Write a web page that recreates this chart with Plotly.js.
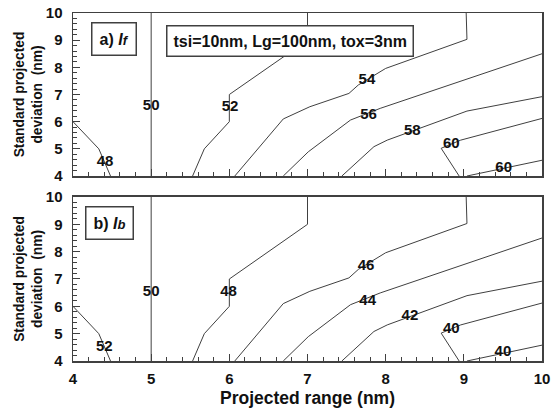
<!DOCTYPE html>
<html><head><meta charset="utf-8">
<script src="https://cdn.plot.ly/plotly-3.0.1.min.js"></script>
<style>body{margin:0;background:#fff}#g{width:554px;height:418px}</style>
</head><body><div id="g"></div>
<script>
// Contour line vertices (projected range, standard projected deviation)
const line1X = [4.0, 4.33, 4.48];            const line1Y = [6.0, 5.0, 4.0];
const line2X = [5.0, 5.0];                   const line2Y = [4.0, 10.0];
const line3X = [5.53, 5.68, 6.0, 6.0, 7.0, 7.0]; const line3Y = [4.0, 5.0, 6.0, 7.0, 9.0, 10.0];
const line4X = [6.07, 6.69, 7.03, 7.53, 7.65, 8.0, 9.04, 9.03];
const line4Y = [4.0, 6.1, 6.55, 7.04, 7.35, 7.96, 9.03, 10.0];
const line5X = [6.69, 7.01, 7.55, 7.93, 10.0]; const line5Y = [4.0, 4.89, 6.06, 6.49, 8.5];
const line6X = [7.44, 7.85, 8.02, 9.04, 10.0]; const line6Y = [4.0, 5.08, 5.32, 6.39, 6.92];
const line7X = [8.94, 8.71, 8.96, 10.0];     const line7Y = [4.0, 5.02, 5.32, 6.12];
const line8X = [9.04, 10.0];                 const line8Y = [4.0, 4.58];

// Contour labels, panel a) If
const labelsA  = ["48", "50", "52", "54", "56", "58", "60", "60"];
const labelsAX = [4.41, 5.0, 6.01, 7.76, 7.78, 8.34, 8.84, 9.51];
const labelsAY = [4.5, 6.55, 6.54, 7.53, 6.24, 5.65, 5.18, 4.28];
// Contour labels, panel b) Ib
const labelsB  = ["52", "50", "48", "46", "44", "42", "40", "40"];
const labelsBX = [4.4, 5.0, 5.99, 7.75, 7.77, 8.31, 8.84, 9.5];
const labelsBY = [4.52, 6.52, 6.52, 7.48, 6.2, 5.62, 5.16, 4.32];

const xTicks = [4, 5, 6, 7, 8, 9, 10];
const yTicks = [4, 5, 6, 7, 8, 9, 10];

const linesX = [line1X, line2X, line3X, line4X, line5X, line6X, line7X, line8X];
const linesY = [line1Y, line2Y, line3Y, line4Y, line5Y, line6Y, line7Y, line8Y];

const FONT = "Liberation Sans, Arial, sans-serif";
const traces = [];
[["x","y"],["x2","y2"]].forEach(([xa, ya]) => {
  linesX.forEach((lx, i) => {
    traces.push({type:"scatter", mode:"lines", x:lx, y:linesY[i], xaxis:xa, yaxis:ya,
      line:{color:"#404040", width:1}, hoverinfo:"skip", showlegend:false});
  });
});
traces.push({type:"scatter", mode:"text", x:labelsAX, y:labelsAY, text:labelsA, xaxis:"x", yaxis:"y",
  textfont:{family:FONT, size:15, color:"#111", weight:700}, showlegend:false});
traces.push({type:"scatter", mode:"text", x:labelsBX, y:labelsBY, text:labelsB, xaxis:"x2", yaxis:"y2",
  textfont:{family:FONT, size:15, color:"#111", weight:700}, showlegend:false});

const tickFont = {family:FONT, size:15, color:"#111", weight:700};
function xax(labels, anchor){
  return {range:[4,10], domain:[0,1], anchor:anchor, tickvals:xTicks, ticktext:xTicks.map(String),
    showticklabels:labels, ticks:"inside", ticklen:7, tickcolor:"#404040", tickwidth:1,
    minor:{dtick:0.2, ticks:"inside", ticklen:4, tickcolor:"#404040", tickwidth:1},
    showline:true, mirror:true, linecolor:"#404040", linewidth:1.5, showgrid:false, zeroline:false,
    tickfont:tickFont, ticklabelstandoff:3,
    title: labels ? {text:"Projected range (nm)", font:{family:FONT, size:17.5, color:"#111", weight:700}, standoff:6} : {text:""}};
}
function yax(dom, anchor){
  return {range:[4,10], domain:dom, anchor:anchor, tickvals:yTicks, ticktext:yTicks.map(String),
    ticks:"inside", ticklen:7, tickcolor:"#404040", tickwidth:1,
    minor:{dtick:0.2, ticks:"inside", ticklen:4, tickcolor:"#404040", tickwidth:1},
    showline:true, mirror:true, linecolor:"#404040", linewidth:1.5, showgrid:false, zeroline:false,
    tickfont:tickFont, ticklabelstandoff:6,
    title:{text:"Standard projected<br>deviation  (nm)", font:{family:FONT, size:13.8, color:"#111", weight:700}, standoff:0}};
}
const boxFont = {family:FONT, size:16, color:"#111", weight:700};
const layout = {
  width:554, height:418, margin:{l:73, r:12, t:13, b:57},
  paper_bgcolor:"#fff", plot_bgcolor:"#fff", showlegend:false,
  xaxis: xax(false, "y"), yaxis: yax([0.5316, 1], "x"),
  xaxis2: xax(true, "y2"), yaxis2: yax([0, 0.4713], "x2"),
  annotations:[
    {xref:"x", yref:"y", x:4.53, y:9.04, text:"a) <i>I</i><span style='font-size:13px'><i>f</i></span>", showarrow:false,
     font:boxFont, bgcolor:"#fff", bordercolor:"#404040", borderwidth:1.5, borderpad:7},
    {xref:"x", yref:"y", x:6.78, y:8.96, text:"tsi=10nm, Lg=100nm, tox=3nm", showarrow:false,
     font:boxFont, bgcolor:"#fff", bordercolor:"#404040", borderwidth:1.5, borderpad:6},
    {xref:"x2", yref:"y2", x:4.465, y:9.04, text:"b) <i>I</i><span style='font-size:13px'><i>b</i></span>", showarrow:false,
     font:boxFont, bgcolor:"#fff", bordercolor:"#404040", borderwidth:1.5, borderpad:7}
  ]
};
Plotly.newPlot("g", traces, layout, {displayModeBar:false, staticPlot:true});
</script></body></html>
